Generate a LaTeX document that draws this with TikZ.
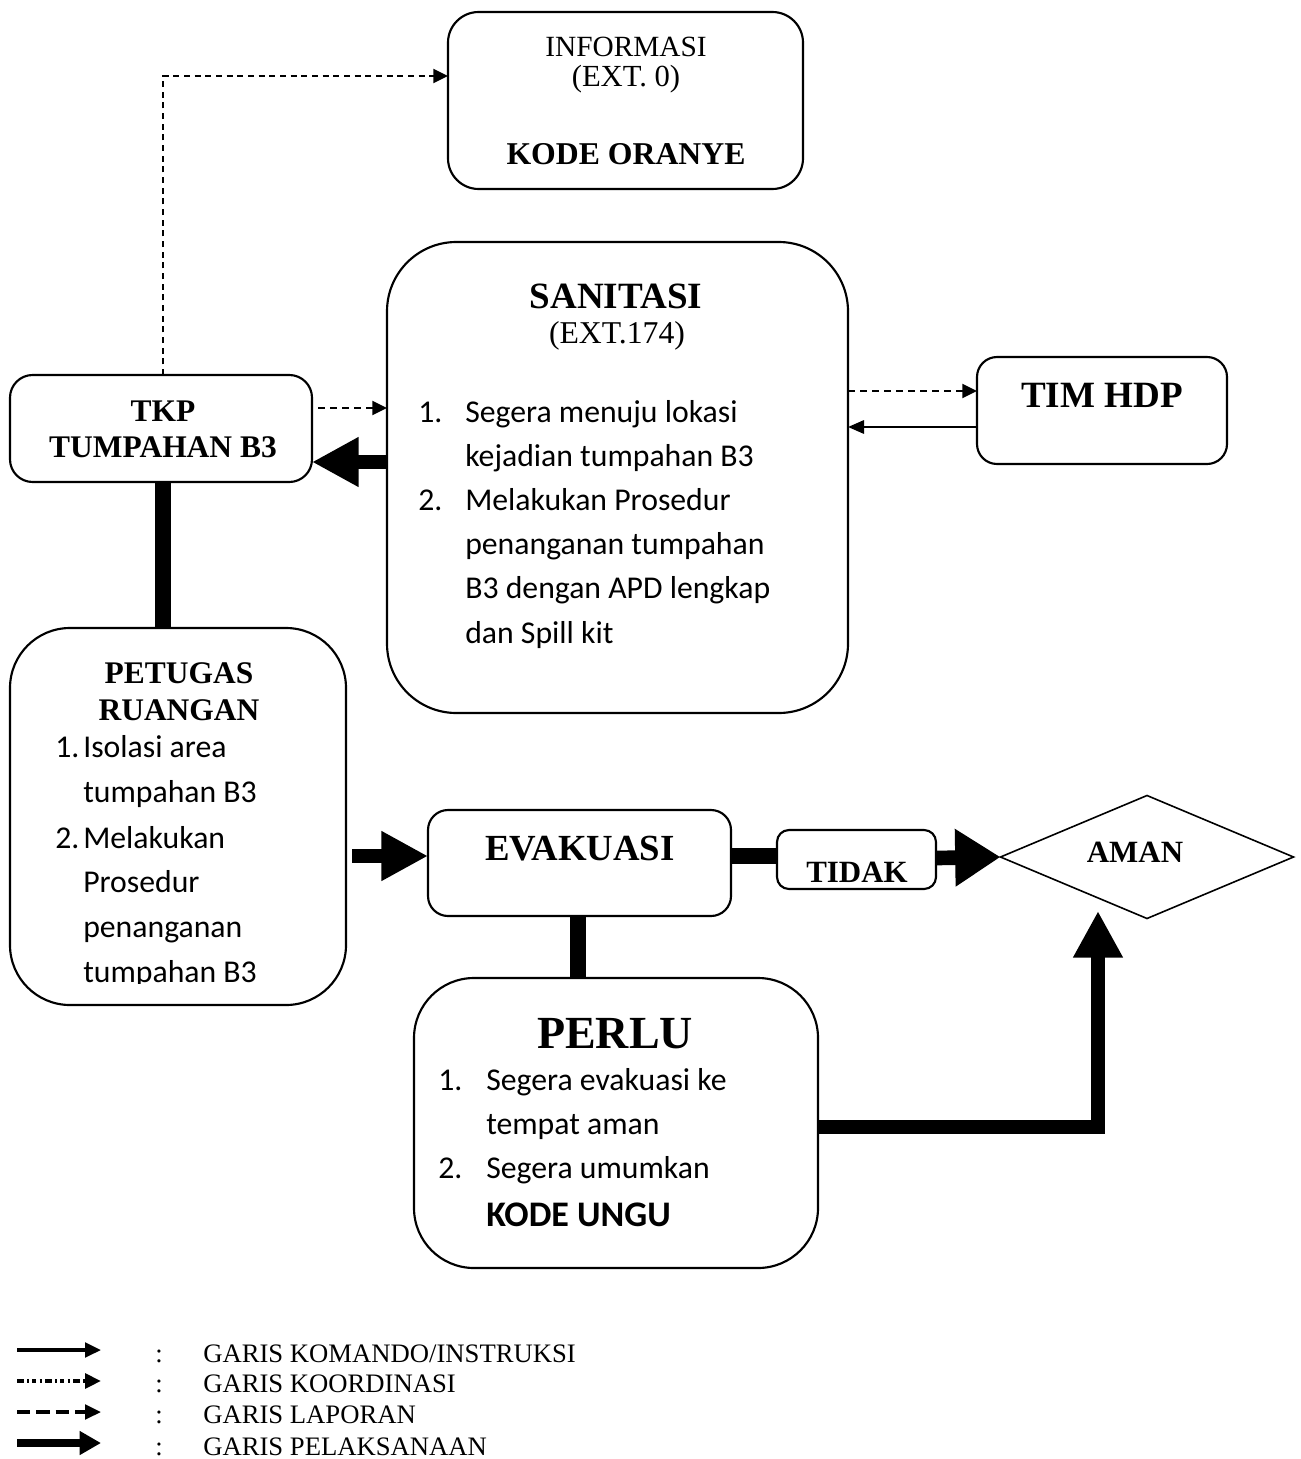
\documentclass[tikz,border=0pt]{standalone}
\usepackage{fontspec}
\setmainfont{Liberation Serif}
\newfontfamily\carl{Carlito}
\usetikzlibrary{arrows.meta,shapes.geometric,fit,calc}
\begin{document}
\begin{tikzpicture}[x=0.75pt,y=-0.75pt,
  box/.style={draw, line width=1.6pt, inner sep=0pt, outer sep=0pt},
  ttl/.style={anchor=base, inner sep=0pt, font=\fontsize{23.6pt}{28pt}\selectfont\bfseries},
  rg/.style={anchor=base, inner sep=0pt, font=\fontsize{23pt}{28pt}\selectfont},
  lst/.style={anchor=base west, inner sep=0pt, font=\carl\fontsize{23.8pt}{28pt}\selectfont},
  leg/.style={anchor=base west, inner sep=0pt, font=\fontsize{20pt}{24pt}\selectfont},
  pel/.style={line width=11pt, -{Triangle[length=35pt,width=35pt]}},
  pelline/.style={line width=11.5pt},
  lap/.style={line width=1.6pt, dash pattern=on 5.5pt off 3.5pt, -{Triangle[length=11pt,width=10.5pt]}},
  kom/.style={line width=1.6pt, -{Triangle[length=12pt,width=10pt]}}
]
\useasboundingbox (0,0) rectangle (1301,1459);

% boxes
\node[box, rounded corners=23pt, fit={(448,12) (803,189)}] (info) {};
\node[box, rounded corners=52pt, fit={(387,242) (848,713)}] (san) {};
\node[box, rounded corners=17pt, fit={(10,375) (312,482)}] (tkp) {};
\node[box, rounded corners=15pt, fit={(977,357) (1227,464)}] (hdp) {};
\node[box, rounded corners=45pt, fit={(10,628) (346,1005)}] (pet) {};
\node[box, rounded corners=15pt, fit={(428,810) (731,916)}] (eva) {};
\node[box, rounded corners=9pt, fit={(777,830) (936,889)}] (tidak) {};
\node[draw, line width=1.2pt, diamond, inner sep=0pt, outer sep=0pt,
      minimum width=219.75pt, minimum height=92.25pt] (aman) at (1147,857) {};
\node[box, rounded corners=45pt, fit={(414,978) (818,1268)}] (perlu) {};

% INFORMASI
\node[rg, font=\fontsize{22pt}{26pt}\selectfont] (t-info1) at (626,57) {INFORMASI};
\node[rg] (t-info2) at (626,87) {(EXT. 0)};
\node[ttl, font=\fontsize{23.8pt}{28pt}\selectfont\bfseries] (t-info3) at (626,165) {KODE ORANYE};

% SANITASI
\node[ttl, font=\fontsize{27.8pt}{32pt}\selectfont\bfseries] (t-san1) at (616,308) {SANITASI};
\node[rg, font=\fontsize{23.8pt}{28pt}\selectfont] (t-san2) at (617,343) {(EXT.174)};
\node[lst] (s-n1) at (418,422) {1.};
\node[lst] (s-l1) at (465,422) {Segera menuju lokasi};
\node[lst] (s-l2) at (465,466) {kejadian tumpahan B3};
\node[lst] (s-n2) at (418,510) {2.};
\node[lst] (s-l3) at (465,510) {Melakukan Prosedur};
\node[lst] (s-l4) at (465,554) {penanganan tumpahan};
\node[lst] (s-l5) at (465,598) {B3 dengan APD lengkap};
\node[lst] (s-l6) at (465,643) {dan Spill kit};

% TKP
\node[ttl] (t-tkp1) at (163,421) {TKP};
\node[ttl] (t-tkp2) at (163,457) {TUMPAHAN B3};

% TIM HDP
\node[ttl, font=\fontsize{27.8pt}{32pt}\selectfont\bfseries] (t-hdp) at (1102,407) {TIM HDP};

% PETUGAS
\node[ttl] (t-pet1) at (179,683) {PETUGAS};
\node[ttl] (t-pet2) at (179,720) {RUANGAN};
\begin{scope}
\clip (0,0) rectangle (1301,983);
\node[lst] (p-n1) at (55,757) {1.};
\node[lst] (p-l1) at (83,757) {Isolasi area};
\node[lst] (p-l2) at (83,802) {tumpahan B3};
\node[lst] (p-n2) at (55,848) {2.};
\node[lst] (p-l3) at (83,848) {Melakukan};
\node[lst] (p-l4) at (83,892) {Prosedur};
\node[lst] (p-l5) at (83,937) {penanganan};
\node[lst] (p-l6) at (83,982) {tumpahan B3};
\end{scope}

% EVAKUASI, TIDAK, AMAN
\node[ttl, font=\fontsize{27.6pt}{32pt}\selectfont\bfseries] (t-eva) at (580,860) {EVAKUASI};
\node[ttl, font=\fontsize{23.2pt}{28pt}\selectfont\bfseries] (t-tidak) at (857,882) {TIDAK};
\node[ttl, font=\fontsize{23.2pt}{28pt}\selectfont\bfseries] (t-aman) at (1135,862) {AMAN};

% PERLU
\node[ttl, font=\fontsize{34.5pt}{40pt}\selectfont\bfseries] (t-perlu) at (615,1048) {PERLU};
\node[lst] (r-n1) at (438,1090) {1.};
\node[lst] (r-l1) at (486,1090) {Segera evakuasi ke};
\node[lst] (r-l2) at (486,1134) {tempat aman};
\node[lst] (r-n2) at (438,1178) {2.};
\node[lst] (r-l3) at (486,1178) {Segera umumkan};
\node[lst, font=\carl\bfseries\fontsize{27pt}{32pt}\selectfont] (r-l4) at (486,1226) {KODE UNGU};

% connectors
\draw[lap, dash pattern=on 4.5pt off 3.5pt] (tkp.north -| 163,0) |- (info.west |- 0,76);
\draw[lap] ($(tkp.east |- 0,408)+(6,0)$) -- (san.west |- 0,408);
\draw[pel] (san.west |- 0,462) -- (tkp.east |- 0,462);
\draw[pelline] (tkp.south -| 163,0) -- (pet.north -| 163,0);
\draw[lap] (san.east |- 0,391) -- (hdp.west |- 0,391);
\draw[kom] (hdp.west |- 0,427) -- (san.east |- 0,427);
\draw[pel] ($(pet.east |- 0,856)+(6,0)$) -- (eva.west |- 0,856);
\draw[pelline] (eva.east |- 0,856) -- (tidak.west |- 0,856);
\draw[pel, -{Triangle[length=34pt,width=41pt]}] (tidak.east |- 0,858) -- (aman.west);
\draw[pelline] (eva.south -| 578,0) -- (perlu.north -| 578,0);
\coordinate (amantip) at (1098,911);
\draw[pel, line join=miter] (perlu.east |- 0,1127) -| (amantip);

% legend
\coordinate (k1) at (17,1350); \coordinate (k2) at (101,1350);
\coordinate (o1) at (17,1381); \coordinate (o2) at (101,1381);
\coordinate (a1) at (17,1412); \coordinate (a2) at (101,1412);
\coordinate (e1) at (17,1443); \coordinate (e2) at (101,1443);
\draw[line width=2.5pt, -{Triangle[length=12pt,width=11pt]}] (k1) -- (k2);
\draw[line width=3.5pt, dash pattern=on 5pt off 2.5pt on 1.5pt off 2.5pt on 3pt off 2.5pt on 1.5pt off 2.5pt, -{Triangle[length=12pt,width=11pt]}] (o1) -- (o2);
\draw[line width=2.5pt, dash pattern=on 10pt off 4.5pt, -{Triangle[length=12pt,width=11pt]}] (a1) -- (a2);
\draw[line width=6pt, -{Triangle[length=16pt,width=17pt]}] (e1) -- (e2);
\node[leg] (c1) at (155,1362) {:};
\node[leg] (c2) at (155,1392) {:};
\node[leg] (c3) at (155,1423) {:};
\node[leg] (c4) at (155,1455) {:};
\node[leg] (g1) at (203,1362) {GARIS KOMANDO/INSTRUKSI};
\node[leg] (g2) at (203,1392) {GARIS KOORDINASI};
\node[leg] (g3) at (203,1423) {GARIS LAPORAN};
\node[leg] (g4) at (203,1455) {GARIS PELAKSANAAN};
\end{tikzpicture}
\end{document}
